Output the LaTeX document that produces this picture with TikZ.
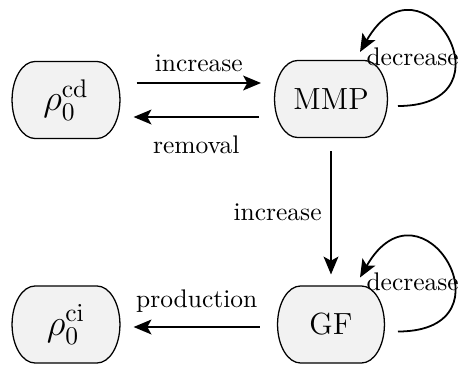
\documentclass[tikz,border=0pt]{standalone}
\usetikzlibrary{arrows.meta}
\newcommand{\roundbox}[2]{%
  \draw[boxline] ([shift={(-#2+23,-38.5)}]#1) -- ([shift={(#2-23,-38.5)}]#1)
    arc[start angle=90,end angle=-90,x radius=9pt,y radius=15.1pt]
    -- ([shift={(-#2+23,38.5)}]#1)
    arc[start angle=270,end angle=90,x radius=9pt,y radius=15.1pt] -- cycle;}
\begin{document}
\begin{tikzpicture}[x=0.3922pt,y=-0.3922pt,
  boxline/.style={line width=0.5pt, fill=gray!10},
  state/.style={rectangle, minimum height=30.2pt, inner sep=0pt},
  arr/.style={-{Stealth[length=7pt,width=5.8pt,inset=1.6pt]}, line width=0.7pt},
  lbl/.style={font=\normalsize}]
\useasboundingbox (0,0) rectangle (459,364);
\coordinate (cdc) at (66,100);
\coordinate (mmpc) at (331,99);
\coordinate (gfc) at (331,324.5);
\coordinate (cic) at (66,324.5);
\roundbox{cdc}{54}
\roundbox{mmpc}{56.5}
\roundbox{gfc}{53.5}
\roundbox{cic}{54}
\node[state, minimum width=42.4pt, font=\Large] (cd) at (cdc) {$\rho_0^{\mathrm{cd}}$};
\node[state, minimum width=44.3pt, font=\large] (mmp) at (mmpc) {MMP};
\node[state, minimum width=42pt, font=\large] (gf) at (gfc) {GF};
\node[state, minimum width=42.4pt, font=\Large] (ci) at (cic) {$\rho_0^{\mathrm{ci}}$};
\draw[arr] ([shift={(16,-17)}]cd.east) -- node[lbl, above=0.6pt] (l1) {increase} ([shift={(-13,-16)}]mmp.west);
\draw[arr] ([shift={(-15,18)}]mmp.west) -- node[lbl, below=3.7pt] (l2) {removal} ([shift={(13,17)}]cd.east);
\draw[arr] ([shift={(0,13)}]mmp.south) -- node[lbl, left] (l3) {increase} ([shift={(0,-11)}]gf.north);
\draw[arr] ([shift={(-17,2.5)}]gf.west) -- node[lbl, above=2.2pt] (l4) {production} ([shift={(13,2.5)}]ci.east);
\draw[arr] ([shift={(67,7)}]mmp.center) .. controls +(120,0) and +(62,-108) .. ([shift={(29,-47)}]mmp.center);
\node[lbl, anchor=base west, inner sep=0pt] (d1) at ([shift={(35,-34)}]mmp.center) {decrease};
\draw[arr] ([shift={(67,7)}]gf.center) .. controls +(120,0) and +(62,-108) .. ([shift={(29,-47)}]gf.center);
\node[lbl, anchor=base west, inner sep=0pt] (d2) at ([shift={(35,-34.5)}]gf.center) {decrease};
\end{tikzpicture}
\end{document}
